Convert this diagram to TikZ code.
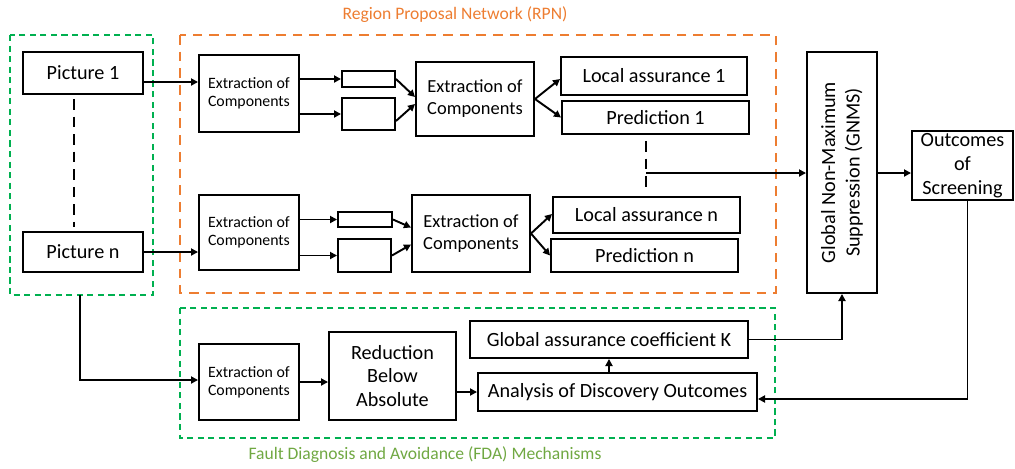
\documentclass[tikz,border=0pt]{standalone}
\usepackage{fontspec}
\setmainfont{Carlito}
\usetikzlibrary{arrows.meta}

\definecolor{rpnorange}{HTML}{ED7D31}
\definecolor{fdagreen}{HTML}{00B050}
\definecolor{fdatext}{HTML}{70A842}

\tikzset{
  box/.style={draw, line width=1.1pt, align=center, inner sep=0pt,
    font=\fontsize{11.5}{13.5}\selectfont},
  sz/.style 2 args={minimum width=#1*0.02cm, minimum height=#2*0.02cm},
  small/.style={font=\fontsize{9}{10.3}\selectfont},
  arr/.style={line width=1.1pt, -{Triangle[length=4pt,width=4pt]}},
  vdash/.style={line width=1.3pt, dash pattern=on 6pt off 4pt},
  grpbox/.style={line width=1.3pt, dash pattern=on 3.5pt off 2.5pt, fdagreen},
  rpnbox/.style={line width=1.3pt, dash pattern=on 5.5pt off 4pt, rpnorange}
}

\begin{document}
\begin{tikzpicture}[x=0.02cm, y=-0.02cm]
\useasboundingbox (0,0) rectangle (1015,468);

% group frames
\draw[grpbox] (10,35) rectangle (153,295);
\draw[rpnbox] (180,35) rectangle (776,293);
\draw[grpbox] (180,308) rectangle (775,438);

\node[rpnorange, font=\fontsize{10}{12}\selectfont] (rpnlab) at (455,15) {Region Proposal Network (RPN)};
\node[fdatext, font=\fontsize{10}{12}\selectfont] (fdalab) at (425,455) {Fault Diagnosis and Avoidance (FDA) Mechanisms};

% inputs
\node[box, sz={120}{42}] (pic1) at (83,73) {Picture 1};
\node[box, sz={120}{40}] (picn) at (83,252) {Picture n};

% first row
\node[box, small, sz={100}{77}] (ext1) at (249,93.5) {Extraction of\\Components};
\node[box, sz={53}{16}] (a1) at (368.5,79) {};
\node[box, sz={53}{32}] (b1) at (368.5,114) {};
\node[box, sz={118}{74}, font=\fontsize{10.5}{12.5}\selectfont] (mid1) at (475,99) {Extraction of\\Components};
\node[box, sz={186}{38}] (loc1) at (654,76) {Local assurance 1};
\node[box, sz={187}{33}] (pred1) at (655.5,117.5) {Prediction 1};

% last row
\node[box, small, sz={100}{75}] (extn) at (249,232.5) {Extraction of\\Components};
\node[box, sz={54}{15}] (a2) at (365,219.5) {};
\node[box, sz={53}{33}] (b2) at (364.5,255.5) {};
\node[box, sz={118}{77}, font=\fontsize{10.5}{12.5}\selectfont] (midn) at (471,233.5) {Extraction of\\Components};
\node[box, sz={187}{36}] (locn) at (646.5,215) {Local assurance n};
\node[box, sz={187}{33}] (predn) at (644.5,255.5) {Prediction n};

% right side
\node[box, sz={70}{241}] (gnms) at (842,172.5) {};
\node[rotate=90, align=center, font=\fontsize{11.5}{14}\selectfont] (gnmslab) at (gnms) {Global Non-Maximum\\Suppression (GNMS)};
\node[box, sz={101}{69}, font=\fontsize{11.5}{13.5}\selectfont] (outc) at (962.5,165.5) {Outcomes\\of\\Screening};

% FDA row
\node[box, small, sz={100}{76}] (ext3) at (249,382) {Extraction of\\Components};
\node[box, sz={127}{88}] (red) at (392.5,376) {Reduction\\Below\\Absolute};
\node[box, sz={278}{37}] (gac) at (609,339.5) {Global assurance coefficient K};
\node[box, sz={279}{38}] (ana) at (617.5,392) {Analysis of Discovery Outcomes};

% connectors, RPN
\draw[vdash] ([xshift=-0.18cm,yshift=-0.08cm]pic1.south) -- ([xshift=-0.18cm,yshift=0.08cm]picn.north);
\draw[arr] ([yshift=-0.18cm]pic1.east) -- ([yshift=-0.18cm]pic1.east -| ext1.west);
\draw[arr] (picn.east) -- (picn.east -| extn.west);

\draw[arr] (a1.west -| ext1.east) -- (a1.west);
\draw[arr] (b1.west -| ext1.east) -- (b1.west);
\draw[arr] (a1.east) -- ([yshift=0.04cm]mid1.west);
\draw[arr] ([yshift=-0.14cm]b1.east) -- ([yshift=-0.1cm]mid1.west);
\draw[arr] (mid1.east) -- ([yshift=-0.06cm]loc1.west);
\draw[arr] (mid1.east) -- (pred1.west);

\draw[arr] (a2.west -| extn.east) -- (a2.west);
\draw[arr] (b2.west -| extn.east) -- (b2.west);
\draw[arr] (a2.east) -- ([yshift=0.12cm]midn.west);
\draw[arr] (b2.east) -- ([yshift=-0.22cm]midn.west);
\draw[arr] (midn.east) -- ([yshift=0.02cm]locn.west);
\draw[arr] (midn.east) -- (predn.west);

\coordinate (j) at (646,173);
\draw[vdash] ([xshift=-0.19cm,yshift=-0.12cm]pred1.south) -- ++(0,-0.94cm);
\draw[arr] (j) -- (j -| gnms.west);
\draw[arr] (gnms.east |- j) -- (j -| outc.west);

% connectors, FDA
\coordinate (s) at (80,295);
\draw[arr] (s) |- ([yshift=0.04cm]ext3.west);
\draw[arr] (ext3.east) -- (ext3.east -| red.west);
\draw[arr] (red.east |- ana.west) -- (ana.west);
\draw[arr] (gac.south |- ana.north) -- (gac.south);
\draw[arr] (gac.east) -| (gnms.south);
\draw[arr] ([xshift=0.1cm]outc.south) |- ([yshift=-0.14cm]ana.east);

\end{tikzpicture}
\end{document}
